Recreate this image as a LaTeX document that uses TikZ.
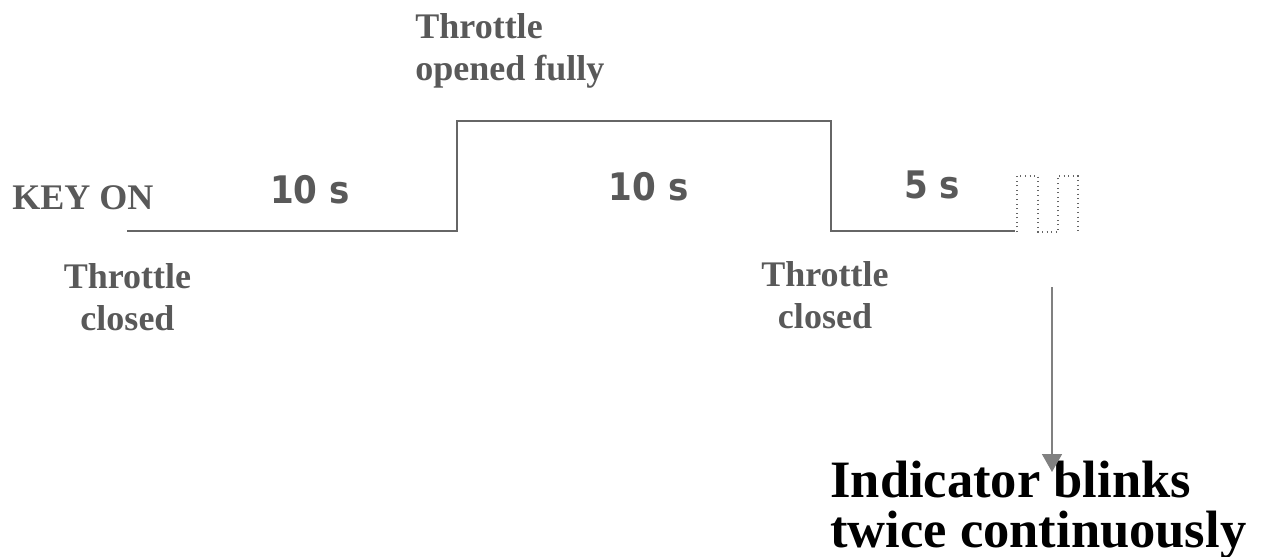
\documentclass[tikz,border=0pt]{standalone}
\usepackage{fontspec}
\setmainfont{Liberation Serif}
\newfontfamily\durfont{DejaVu Sans}
\usetikzlibrary{positioning,arrows.meta}
\definecolor{txtgray}{HTML}{595959}
\definecolor{wavegray}{HTML}{666666}
\definecolor{arrowgray}{HTML}{808080}
\tikzset{
tag/.style={
text=txtgray,
inner sep=0pt,
font={\fontsize{20.5pt}{23.9pt}\selectfont\bfseries}},
dur/.style={
text=txtgray,
inner sep=0pt,
font={\fontsize{21.6pt}{26pt}\selectfont\durfont\bfseries}},
wave/.style={draw=wavegray,line width=0.85pt},
blink/.style={draw=wavegray,dotted,line width=0.6pt},
line/.style={-{Triangle[width=0.4cm,length=0.36cm]},draw=arrowgray,fill=arrowgray,line width=0.85pt}
}

\begin{document}
\begin{tikzpicture}[x=0.02cm,y=-0.02cm]
  \useasboundingbox (0,0) rectangle (1263,556);
  \coordinate (s0) at (127,231);
  \coordinate (s1) at (457,231);
  \coordinate (s2) at (457,121);
  \coordinate (s3) at (831,121);
  \coordinate (s4) at (831,231);
  \coordinate (s5) at (1015,231);
  \draw[wave] (s0) -- (s1) -- (s2) -- (s3) -- (s4) -- (s5);
  % two blinks
  \draw[blink] (1017,232) -- (1017,176) -- (1038,176) -- (1038,232) -- (1058,232) -- (1058,176) -- (1078,176) -- (1078,232);
  % base = baseline of the last line
  \node[tag, anchor=base west] (a) at (12,209) {KEY ON};
  \node[tag, anchor=base, align=center] (b) at (127.5,330) {Throttle\\closed};
  \node[tag, anchor=base west, align=left] (c) at (415,80) {Throttle\\opened fully};
  \node[tag, anchor=base, align=center] (d) at (825,328) {Throttle\\closed};
  \node[dur, anchor=base] (t1) at (310,203) {\scalebox{0.9}[1]{10 s}};
  \node[dur, anchor=base] (t2) at (648.5,200) {\scalebox{0.9}[1]{10 s}};
  \node[dur, anchor=base] (t3) at (932,198) {\scalebox{0.9}[1]{5 s}};
  \node[anchor=base west, inner sep=0pt, align=left,
        font={\fontsize{29.9pt}{27.9pt}\selectfont\bfseries}] (e) at (830,547) {Indicator blinks\\twice continuously};
  \coordinate (p) at (1052,287);
  \coordinate (q) at (1052,472);
  \draw[line] (p) -- (q);
\end{tikzpicture}
\end{document}
